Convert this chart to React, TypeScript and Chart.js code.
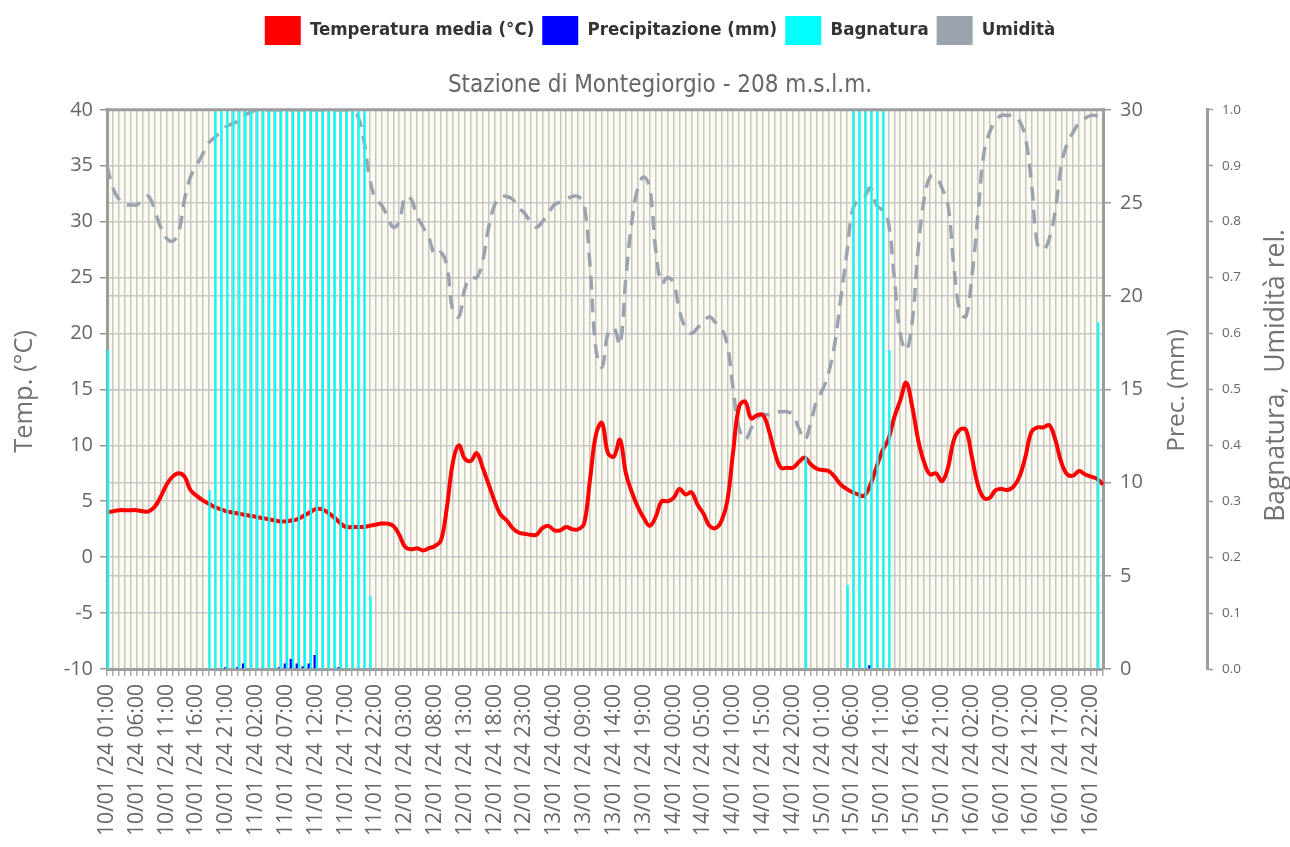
import React, { useEffect, useRef } from "react";
import { Chart, registerables } from "chart.js";

Chart.register(...registerables);

// ---------- categories (hourly, 10/01/24 01:00 -> 17/01/24 00:00) ----------
const HOURS = 168;
const LABELS: string[] = Array.from({ length: HOURS }, (_, i) => {
  const h = i + 1;
  const day = 10 + Math.floor(h / 24);
  const hh = String(h % 24).padStart(2, "0");
  return `${day}/01 /24 ${hh}:00`;
});

// ---------- series ----------
const TEMPERATURA = [
  4.0, 4.1, 4.2, 4.2, 4.2, 4.2, 4.1, 4.1, 4.5, 5.4,
  6.5, 7.2, 7.5, 7.2, 6.0, 5.5, 5.1, 4.8, 4.5, 4.3,
  4.1, 4.0, 3.9, 3.8, 3.7, 3.6, 3.5, 3.4, 3.3, 3.2,
  3.2, 3.3, 3.4, 3.7, 4.0, 4.3, 4.3, 4.0, 3.6, 3.1,
  2.7, 2.7, 2.7, 2.7, 2.8, 2.9, 3.0, 3.0, 2.8, 2.0,
  0.9, 0.7, 0.8, 0.6, 0.8, 1.0, 1.5, 4.5, 8.5, 10.0,
  8.8, 8.6, 9.3, 8.0, 6.5, 5.0, 3.8, 3.3, 2.6, 2.2,
  2.1, 2.0, 2.0, 2.6, 2.8, 2.4, 2.4, 2.7, 2.5, 2.5,
  3.0, 7.0, 11.0, 12.0, 9.3, 9.0, 10.5, 7.5, 5.8, 4.5,
  3.5, 2.8, 3.6, 5.0, 5.0, 5.3, 6.1, 5.6, 5.8, 4.7,
  3.9, 2.8, 2.6, 3.2, 5.0, 9.5, 13.5, 13.9, 12.4, 12.7,
  12.7, 11.3, 9.3, 8.0, 8.0, 8.0, 8.5, 8.9, 8.3, 7.9,
  7.8, 7.7, 7.2, 6.5, 6.1, 5.8, 5.6, 5.5, 6.5, 8.0,
  9.5, 10.5, 12.5, 14.0, 15.6, 13.5, 10.5, 8.5, 7.4, 7.5,
  6.8, 8.0, 10.5, 11.4, 11.4, 9.0, 6.5, 5.3, 5.3, 6.0,
  6.1, 6.0, 6.3, 7.2, 9.0, 11.2, 11.6, 11.6, 11.8, 10.5,
  8.5, 7.4, 7.3, 7.7, 7.4, 7.2, 7.0, 6.5,
];

const PRECIPITAZIONE = [
  0, 0, 0, 0, 0, 0, 0, 0, 0, 0,
  0, 0, 0, 0, 0, 0, 0, 0, 0, 0,
  0.1, 0, 0.1, 0.3, 0, 0, 0, 0, 0, 0.1,
  0.3, 0.55, 0.3, 0.15, 0.3, 0.75, 0, 0, 0, 0.1,
  0, 0, 0, 0, 0, 0, 0, 0, 0, 0,
  0, 0, 0, 0, 0, 0, 0, 0, 0, 0,
  0, 0, 0, 0, 0, 0, 0, 0, 0, 0,
  0, 0, 0, 0, 0, 0, 0, 0, 0, 0,
  0, 0, 0, 0, 0, 0, 0, 0, 0, 0,
  0, 0, 0, 0, 0, 0, 0, 0, 0, 0,
  0, 0, 0, 0, 0, 0, 0, 0, 0, 0,
  0, 0, 0, 0, 0, 0, 0, 0, 0, 0,
  0, 0, 0, 0, 0, 0, 0, 0, 0.2, 0,
  0, 0, 0, 0, 0, 0, 0, 0, 0, 0,
  0, 0, 0, 0, 0, 0, 0, 0, 0, 0,
  0, 0, 0, 0, 0, 0, 0, 0, 0, 0,
  0, 0, 0, 0, 0, 0, 0, 0,
];

const BAGNATURA = [
  0.57, 0, 0, 0, 0, 0, 0, 0, 0, 0,
  0, 0, 0, 0, 0, 0, 0, 0.32, 1, 1,
  1, 1, 1, 1, 1, 1, 1, 1, 1, 1,
  1, 1, 1, 1, 1, 1, 1, 1, 1, 1,
  1, 1, 1, 1, 0.13, 0, 0, 0, 0, 0,
  0, 0, 0, 0, 0, 0, 0, 0, 0, 0,
  0, 0, 0, 0, 0, 0, 0, 0, 0, 0,
  0, 0, 0, 0, 0, 0, 0, 0, 0, 0,
  0, 0, 0, 0, 0, 0, 0, 0, 0, 0,
  0, 0, 0, 0, 0, 0, 0, 0, 0, 0,
  0, 0, 0, 0, 0, 0, 0, 0, 0, 0,
  0, 0, 0, 0, 0, 0, 0, 0.38, 0, 0,
  0, 0, 0, 0, 0.15, 1, 1, 1, 1, 1,
  1, 0.57, 0, 0, 0, 0, 0, 0, 0, 0,
  0, 0, 0, 0, 0, 0, 0, 0, 0, 0,
  0, 0, 0, 0, 0, 0, 0, 0, 0, 0,
  0, 0, 0, 0, 0, 0, 0.62, 0.62,
];

const UMIDITA = [
  0.90, 0.86, 0.84, 0.83, 0.83, 0.83, 0.84, 0.845, 0.82, 0.79,
  0.77, 0.765, 0.78, 0.84, 0.88, 0.90, 0.92, 0.94, 0.95, 0.96,
  0.97, 0.975, 0.98, 0.99, 0.995, 1, 1, 1, 1, 1,
  1, 1, 1, 1, 1, 1, 1, 1, 1, 1,
  1, 1, 0.99, 0.95, 0.88, 0.84, 0.83, 0.81, 0.79, 0.80,
  0.845, 0.84, 0.81, 0.79, 0.77, 0.74, 0.745, 0.72, 0.64, 0.63,
  0.68, 0.70, 0.70, 0.73, 0.79, 0.83, 0.845, 0.845, 0.84, 0.825,
  0.815, 0.80, 0.79, 0.80, 0.815, 0.83, 0.835, 0.84, 0.845, 0.845,
  0.83, 0.72, 0.57, 0.54, 0.60, 0.61, 0.58, 0.70, 0.80, 0.86,
  0.88, 0.86, 0.75, 0.69, 0.70, 0.69, 0.64, 0.61, 0.60, 0.61,
  0.62, 0.63, 0.62, 0.61, 0.58, 0.50, 0.43, 0.41, 0.43, 0.45,
  0.455, 0.455, 0.46, 0.46, 0.46, 0.455, 0.43, 0.41, 0.44, 0.48,
  0.50, 0.53, 0.58, 0.66, 0.74, 0.82, 0.84, 0.845, 0.86, 0.83,
  0.82, 0.80, 0.70, 0.60, 0.57, 0.62, 0.75, 0.84, 0.88, 0.88,
  0.86, 0.83, 0.72, 0.64, 0.63, 0.70, 0.81, 0.92, 0.96, 0.98,
  0.99, 0.99, 0.99, 0.98, 0.95, 0.87, 0.76, 0.75, 0.77, 0.82,
  0.90, 0.94, 0.96, 0.977, 0.985, 0.99, 0.99, 0.995,
];

const SERIES_NAMES = ["Temperatura media (°C)", "Precipitazione (mm)", "Bagnatura", "Umidità"];
const SERIES_COLORS = ["#ff0000", "#0000ff", "#00ffff", "#9ba4ae"];
const CHART_TITLE = "Stazione di Montegiorgio - 208 m.s.l.m.";
const AXIS_TITLES = ["Temp. (°C)", "Prec. (mm)", "Bagnatura,  Umidità rel."];

const W = 1320;
const H = 847;
const AXIS_GRAY = "#9d9d9d";
const GRID_GRAY = "#c6c6c6";
const TEXT_GRAY = "#666666";

function vText(ctx: CanvasRenderingContext2D, text: string, x: number, y: number, font: string) {
  ctx.save();
  ctx.translate(x, y);
  ctx.rotate(-Math.PI / 2);
  ctx.font = font;
  ctx.fillStyle = "#737373";
  ctx.textAlign = "center";
  ctx.textBaseline = "middle";
  ctx.fillText(text, 0, 0);
  ctx.restore();
}

const decorPlugin = {
  id: "decor",
  beforeDraw(chart: any) {
    const { ctx, chartArea: a } = chart;
    ctx.save();
    ctx.fillStyle = "#fdfaf0";
    ctx.fillRect(a.left, a.top, a.right - a.left, a.bottom - a.top);
    ctx.restore();
  },
  afterDraw(chart: any) {
    const { ctx, chartArea: a } = chart;
    ctx.save();
    ctx.strokeStyle = AXIS_GRAY;
    ctx.lineWidth = 3;
    ctx.beginPath();
    ctx.moveTo(a.left - 1.5, a.top);
    ctx.lineTo(a.right + 1.5, a.top);
    ctx.stroke();
    ctx.restore();
    const cy = (a.top + a.bottom) / 2;
    vText(ctx, AXIS_TITLES[0], 25, cy + 2, '25.5px "Open Sans"');
    vText(ctx, AXIS_TITLES[1], 1177, cy + 1, '24.5px "Open Sans"');
    vText(ctx, AXIS_TITLES[2], 1276, cy - 14, '26.5px "Open Sans"');
  },
};

export default function App() {
  const ref = useRef<HTMLCanvasElement | null>(null);

  useEffect(() => {
    if (!ref.current) return;
    Chart.defaults.font.family = '"Open Sans", sans-serif';
    Chart.defaults.color = TEXT_GRAY;

    const chart = new Chart(ref.current, {
      type: "line",
      data: {
        labels: LABELS,
        datasets: [
          {
            type: "line",
            label: SERIES_NAMES[0],
            data: TEMPERATURA,
            yAxisID: "yTemp",
            borderColor: SERIES_COLORS[0],
            backgroundColor: SERIES_COLORS[0],
            borderWidth: 4,
            pointRadius: 0,
            tension: 0.4,
            fill: false,
            order: 2,
          },
          {
            type: "bar",
            label: SERIES_NAMES[1],
            data: PRECIPITAZIONE,
            yAxisID: "yPrec",
            backgroundColor: SERIES_COLORS[1],
            borderWidth: 0,
            order: 0,
          },
          {
            type: "bar",
            label: SERIES_NAMES[2],
            data: BAGNATURA,
            yAxisID: "yHum",
            backgroundColor: SERIES_COLORS[2],
            borderWidth: 0,
            order: 1,
          },
          {
            type: "line",
            label: SERIES_NAMES[3],
            data: UMIDITA,
            yAxisID: "yHum",
            borderColor: SERIES_COLORS[3],
            backgroundColor: SERIES_COLORS[3],
            borderWidth: 3.5,
            borderDash: [14, 9],
            pointRadius: 0,
            tension: 0.4,
            fill: false,
            order: 3,
          },
        ],
      },
      options: {
        responsive: false,
        animation: false,
        devicePixelRatio: 1,
        layout: { padding: { top: 8, left: 0, right: 0, bottom: 0 } },
        plugins: {
          tooltip: { enabled: false },
          legend: {
            display: true,
            position: "top",
            weight: 3000,
            labels: {
              boxWidth: 36,
              boxHeight: 29,
              padding: 8,
              color: "#333333",
              font: { family: '"DejaVu Sans Condensed", "DejaVu Sans"', size: 18.5, weight: "bold" },
              generateLabels: (c: any) =>
                c.data.datasets.map((ds: any, i: number) => ({
                  text: ds.label,
                  fillStyle: SERIES_COLORS[i],
                  strokeStyle: SERIES_COLORS[i],
                  lineWidth: 0,
                  hidden: false,
                  datasetIndex: i,
                  fontColor: "#333333",
                })),
            },
          },
          title: {
            display: true,
            text: CHART_TITLE,
            color: TEXT_GRAY,
            font: { family: '"DejaVu Sans Condensed", "DejaVu Sans"', size: 24, weight: "normal" },
            padding: { top: 16, bottom: 10 },
          },
        },
        scales: {
          x: {
            type: "category",
            offset: false,
            grid: {
              offset: false,
              color: GRID_GRAY,
              lineWidth: 1.5,
              tickLength: 7,
              tickColor: "#a9a9a9",
              tickWidth: 1.5,
            },
            border: { display: true, color: AXIS_GRAY, width: 3 },
            ticks: {
              autoSkip: false,
              minRotation: 90,
              maxRotation: 90,
              padding: 8,
              color: TEXT_GRAY,
              font: { size: 21 },
              callback: (_v: any, i: number) => (i % 5 === 0 ? LABELS[i] : ""),
            },
            afterFit: (s: any) => {
              s.height = 178;
            },
          },
          yTemp: {
            type: "linear",
            position: "left",
            min: -10,
            max: 40,
            grid: { color: GRID_GRAY, lineWidth: 1.5, tickLength: 7, tickColor: "#999999", tickWidth: 1.5 },
            border: { display: true, color: AXIS_GRAY, width: 3 },
            ticks: { stepSize: 5, padding: 7, color: TEXT_GRAY, font: { size: 20 } },
            afterFit: (s: any) => {
              s.width = 107;
            },
          },
          yPrec: {
            type: "linear",
            position: "right",
            min: 0,
            max: 30,
            weight: 0,
            grid: { color: GRID_GRAY, lineWidth: 1.5, tickLength: 8, tickColor: "#999999", tickWidth: 1.5 },
            border: { display: true, color: AXIS_GRAY, width: 3 },
            ticks: { stepSize: 5, padding: 9, color: TEXT_GRAY, font: { size: 20 } },
            afterFit: (s: any) => {
              s.width = 104;
            },
          },
          yHum: {
            type: "linear",
            position: "right",
            min: 0,
            max: 1,
            weight: 1,
            grid: { drawOnChartArea: false, tickLength: 6, tickColor: "#999999", tickWidth: 1.5 },
            border: { display: true, color: AXIS_GRAY, width: 3 },
            ticks: {
              stepSize: 0.1,
              padding: 9,
              color: TEXT_GRAY,
              font: { size: 13.5 },
              callback: (v: any) => Number(v).toFixed(1),
            },
            afterFit: (s: any) => {
              s.width = W - 1207;
            },
          },
        },
      },
      plugins: [decorPlugin],
    } as any);

    return () => chart.destroy();
  }, []);

  return (
    <div style={{ position: "fixed", left: 0, top: 0, width: W, height: H, background: "#ffffff" }}>
      <canvas ref={ref} width={W} height={H} style={{ display: "block" }} />
    </div>
  );
}
